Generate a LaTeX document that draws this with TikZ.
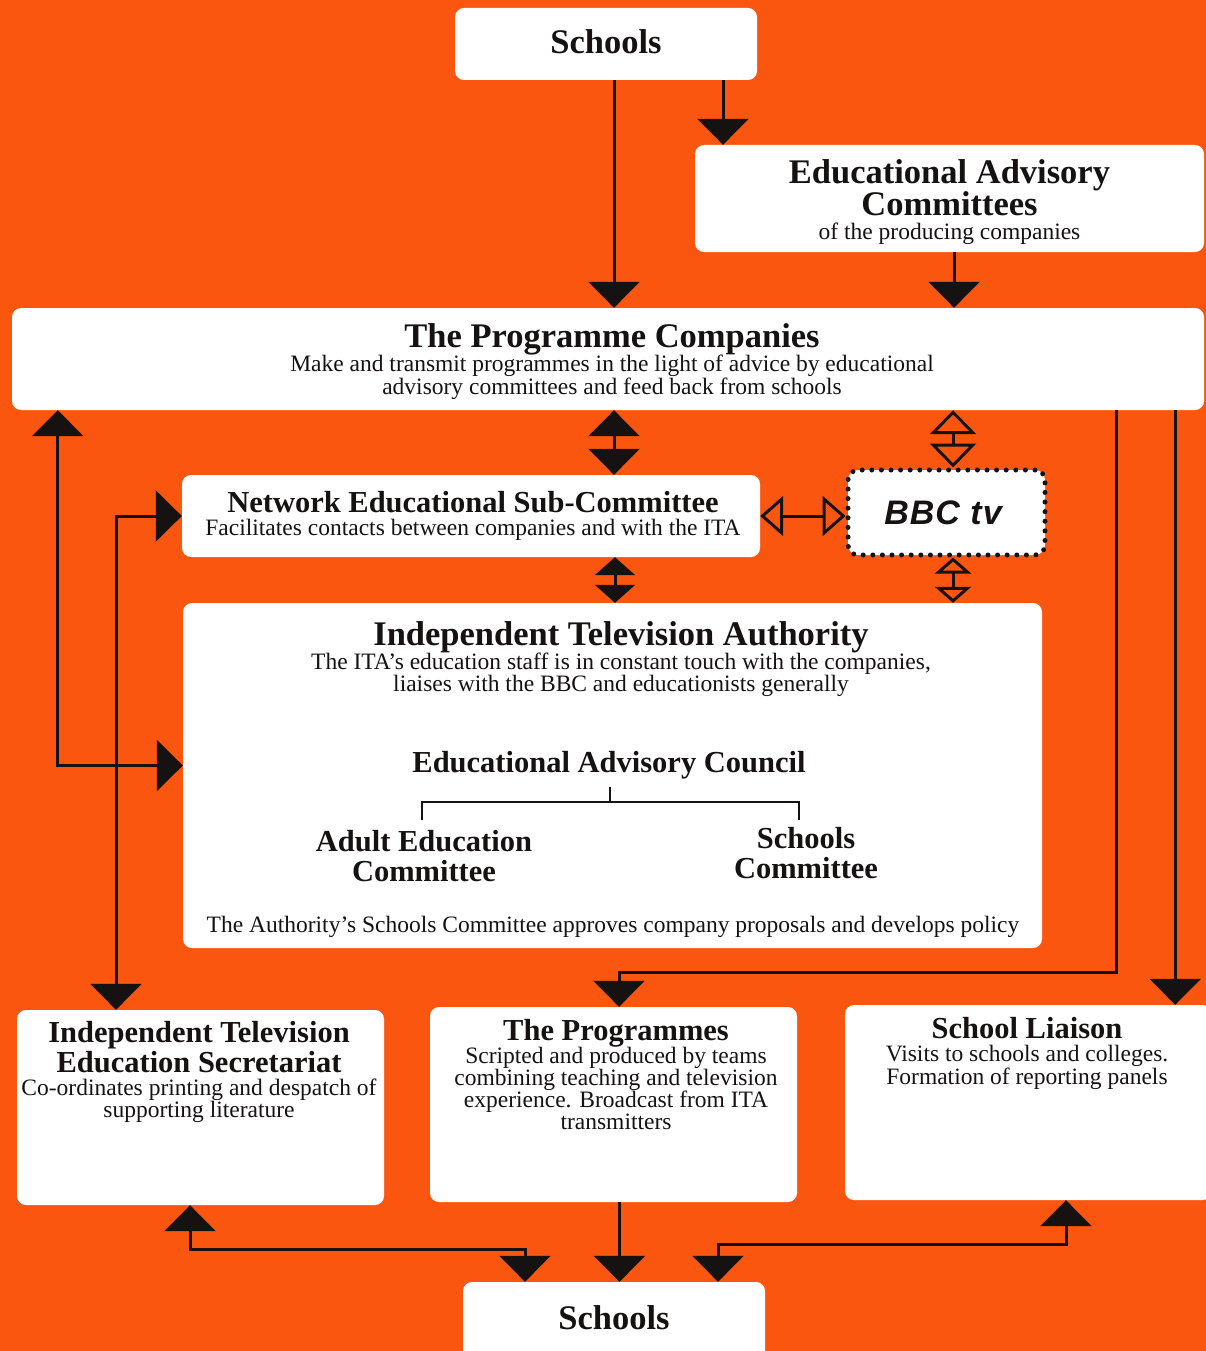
\documentclass[tikz,border=0pt]{standalone}
\usepackage{fontspec}
\setmainfont{Liberation Serif}
\newfontfamily\bbcfont[LetterSpace=3]{Liberation Sans}
\usetikzlibrary{arrows.meta}
\definecolor{chartorange}{RGB}{250,86,16}
\definecolor{ink}{RGB}{22,18,18}
\tikzset{
  panel/.style={fill=white, rounded corners=9pt, inner sep=0pt},
  dotbox/.style={fill=white, draw=ink, line width=5pt, dash pattern=on 0pt off 9.6pt, line cap=round, rounded corners=10pt, inner sep=0pt},
  head/.style={font=\fontsize{34.5}{32}\selectfont\bfseries, align=center, anchor=north, inner sep=0pt, text=ink},
  subhead/.style={font=\fontsize{30.5}{30.5}\selectfont\bfseries, align=center, anchor=north, inner sep=0pt, text=ink},
  note/.style={font=\fontsize{23.5}{21.5}\selectfont, align=center, anchor=north, inner sep=0pt, text=ink},
  bbctext/.style={font=\bbcfont\fontsize{34}{34}\selectfont\bfseries\itshape, inner sep=0pt, text=ink},
  Bigtri/.tip={Triangle[width=51pt,length=26pt]},
  Smalltri/.tip={Triangle[width=40pt,length=18pt]},
  Opentri/.tip={Triangle[open,width=46pt,length=24pt,line width=3pt]},
  Opensmall/.tip={Triangle[open,width=36pt,length=16pt,line width=3pt]},
  Openside/.tip={Triangle[open,width=40pt,length=23pt,line width=3pt]},
  flow/.style={draw=ink, line width=3pt, -Bigtri},
  twoway/.style={draw=ink, line width=3pt, Bigtri-Bigtri},
  smalltwoway/.style={draw=ink, line width=3pt, Smalltri-Smalltri},
  hollow/.style={draw=ink, line width=3pt, Opentri-Opentri},
  hollowsmall/.style={draw=ink, line width=3pt, Opensmall-Opensmall},
  hollowside/.style={draw=ink, line width=3pt, Openside-Openside},
  bracket/.style={draw=ink, line width=2.5pt}
}
\begin{document}
\begin{tikzpicture}[x=1pt,y=-1pt]
  % background
  \clip (0,0) rectangle (1206,1351);
  \fill[chartorange] (0,0) rectangle (1206,1351);
  % panels
  \node[panel, minimum width=302pt, minimum height=72pt] (schtop) at (606,44) {};
  \node[panel, minimum width=509pt, minimum height=107pt] (eac) at (949.5,198.5) {};
  \node[panel, minimum width=1192pt, minimum height=102pt] (pc) at (608,359) {};
  \node[panel, minimum width=578pt, minimum height=82pt] (nesc) at (471,516) {};
  \node[dotbox, minimum width=197pt, minimum height=85pt] (bbc) at (946.5,512.5) {};
  \node[panel, minimum width=859pt, minimum height=345pt] (ita) at (612.5,775.5) {};
  \node[panel, minimum width=367pt, minimum height=195pt] (sec) at (200.5,1107.5) {};
  \node[panel, minimum width=367pt, minimum height=195pt] (prog) at (613.5,1104.5) {};
  \node[panel, minimum width=367pt, minimum height=195pt] (liai) at (1028.5,1102.5) {};
  \node[panel, minimum width=302pt, minimum height=78pt] (schbot) at (614,1321) {};
  % texts
  \node[head] (schtoplbl) at (606,29) {Schools};
  \node[head] (eaclbl) at (949.5,159) {Educational Advisory\\Committees};
  \node[note] (eacnote) at (949.5,223) {of the producing companies};
  \node[head] (pclbl) at (612,323) {The Programme Companies};
  \node[note] (pcnote) at (612,355) {Make and transmit programmes in the light of advice by educational\\advisory committees and feed back from schools};
  \node[subhead] (nesclbl) at (473,491) {Network Educational Sub-Committee};
  \node[note] (nescnote) at (473,519) {Facilitates contacts between companies and with the ITA};
  \node[bbctext] (bbclbl) at (943,513) {BBC tv};
  \node[head] (italbl) at (621,621) {Independent Television Authority};
  \node[note] (itanote) at (621,653) {The ITA's education staff is in constant touch with the companies,\\liaises with the BBC and educationists generally};
  \node[subhead] (council) at (609,751) {Educational Advisory Council};
  \node[subhead] (adultcom) at (424,830) {Adult Education\\Committee};
  \node[subhead] (schcom) at (806,827) {Schools\\Committee};
  \node[note] (itafoot) at (613,916) {The Authority's Schools Committee approves company proposals and develops policy};
  \node[subhead] (seclbl) at (199,1021) {Independent Television\\Education Secretariat};
  \node[note] (secnote) at (199,1079) {Co-ordinates printing and despatch of\\supporting literature};
  \node[subhead] (proglbl) at (616,1019) {The Programmes};
  \node[note] (prognote) at (616,1047) {Scripted and produced by teams\\combining teaching and television\\experience. Broadcast from ITA\\transmitters};
  \node[subhead] (liailbl) at (1027,1017) {School Liaison};
  \node[note] (liainote) at (1027,1045) {Visits to schools and colleges.\\Formation of reporting panels};
  \node[head] (schbotlbl) at (614,1305) {Schools};
  % council bracket
  \coordinate (fork) at (610,802);
  \draw[bracket] (fork) -- ++(0,-15);
  \draw[bracket] (422,820) |- (fork) -| (799,820);
  % from the schools
  \draw[flow] ([xshift=8pt]schtop.south) -- ([xshift=8pt]schtop.south |- pc.north);
  \draw[flow] ([xshift=117pt]schtop.south) -- ([xshift=117pt]schtop.south |- eac.north);
  \draw[flow] ([xshift=4.5pt]eac.south) -- ([xshift=4.5pt]eac.south |- pc.north);
  % two-way links
  \draw[twoway] ([xshift=6pt]pc.south) -- ([xshift=6pt]pc.south |- nesc.north);
  \draw[hollow] ([xshift=6.5pt]bbc.north) -- ([xshift=6.5pt]bbc.north |- pc.south);
  \draw[hollowside] (nesc.east) -- (nesc.east -| bbc.west);
  \draw[smalltwoway] ([xshift=144pt]nesc.south) -- ([xshift=144pt]nesc.south |- ita.north);
  \draw[hollowsmall] ([xshift=6.5pt]bbc.south) -- ([xshift=6.5pt]bbc.south |- ita.north);
  \draw[twoway] ([xshift=46pt]pc.south west) |- ([yshift=10pt]ita.west);
  \draw[twoway] (nesc.west) -| ([xshift=-84.5pt]sec.north);
  % down to the programmes and liaison
  \draw[flow] ([xshift=-88pt]pc.south east) |- ([xshift=5.5pt,yshift=34pt]prog.north) -- ([xshift=5.5pt]prog.north);
  \draw[flow] ([xshift=-29pt]pc.south east) -- ([xshift=-29pt]pc.south east |- liai.north);
  % back to the schools
  \draw[twoway] ([xshift=-10.5pt]sec.south) |- ([xshift=-89pt,yshift=32pt]schbot.north) -- ([xshift=-89pt]schbot.north);
  \draw[flow] ([xshift=6pt]prog.south) -- ([xshift=6pt]prog.south |- schbot.north);
  \draw[twoway] ([xshift=37.5pt]liai.south) |- ([xshift=104pt,yshift=37pt]schbot.north) -- ([xshift=104pt]schbot.north);
\end{tikzpicture}
\end{document}
